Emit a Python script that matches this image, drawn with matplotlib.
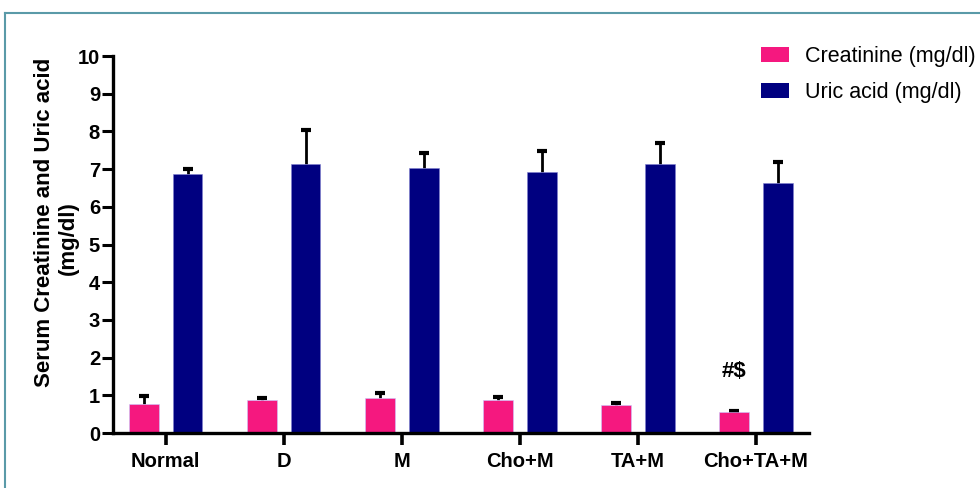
import numpy as np
import matplotlib
matplotlib.use("Agg")
import matplotlib.pyplot as plt
from matplotlib.lines import Line2D
from matplotlib.patches import Patch

plt.rcParams['font.family'] = ['Liberation Sans', 'DejaVu Sans']

groups = ['Normal', 'D', 'M', 'Cho+M', 'TA+M', 'Cho+TA+M']
creatinine = [0.76, 0.88, 0.92, 0.87, 0.74, 0.55]
creatinine_sd = [0.23, 0.04, 0.13, 0.09, 0.05, 0.04]
uric_acid = [6.87, 7.13, 7.02, 6.92, 7.14, 6.62]
uric_acid_sd = [0.13, 0.92, 0.40, 0.57, 0.54, 0.56]
yticks = [0, 1, 2, 3, 4, 5, 6, 7, 8, 9, 10]

pink = '#F5187F'
navy = '#000080'

fig = plt.figure(figsize=(9.8, 4.88), dpi=100)
ax = fig.add_axes([0.1156, 0.1127, 0.7102, 0.7725])

x = np.arange(len(groups))
w = 0.25
off = 0.186


def bars_with_sd(xpos, vals, sd, color, edge):
    ax.bar(xpos, vals, w, color=color, edgecolor=edge, linewidth=0.4, zorder=2)
    # upper half of the SD only
    _, caps, _ = ax.errorbar(xpos, vals, yerr=[np.zeros(len(vals)), sd], fmt='none',
                             ecolor='black', elinewidth=2, capsize=3.5, capthick=3,
                             zorder=1)
    caps[0].set_visible(False)


bars_with_sd(x - off, creatinine, creatinine_sd, pink, '#c8c8ff')
bars_with_sd(x + off, uric_acid, uric_acid_sd, navy, '#8080d0')

# significance mark over the Cho+TA+M creatinine bar
ax.text(x[5] - off, 1.63, '#$', ha='center', va='center', fontsize=16, fontweight='bold')

ax.set_xlim(-0.444, 5.451)
ax.set_ylim(0, 10)
ax.set_yticks(yticks)
ax.set_xticks(x)
ax.set_xticklabels(groups)

for s in ['top', 'right']:
    ax.spines[s].set_visible(False)
for s in ['left', 'bottom']:
    ax.spines[s].set_linewidth(2.4)
    ax.spines[s].set_zorder(3)

ax.tick_params(axis='y', length=8, width=2.2, pad=1.5, labelsize=14.5)
ax.tick_params(axis='x', length=8.5, width=2.6, pad=5, labelsize=14.5)
for lab in ax.get_xticklabels() + ax.get_yticklabels():
    lab.set_fontweight('bold')

fig.text(45 / 980, 1 - 222 / 488, 'Serum Creatinine and Uric acid', rotation=90,
         ha='center', va='center', fontsize=16, fontweight='bold')
fig.text(68 / 980, 1 - 238 / 488, '(mg/dl)', rotation=90,
         ha='center', va='center', fontsize=16, fontweight='bold')

handles = [Patch(facecolor=pink), Patch(facecolor=navy)]
fig.legend(handles, ['Creatinine (mg/dl)', 'Uric acid (mg/dl)'],
           loc='upper left', bbox_to_anchor=(752 / 980, 1 - 37 / 488),
           frameon=False, fontsize=15.5, handlelength=1.3, handleheight=0.7,
           handletextpad=0.75, labelspacing=0.72, borderaxespad=0)

# outer frame
border = '#5a9aa8'
fig.add_artist(Line2D([5 / 980, 1], [1 - 13 / 488] * 2, color=border, lw=1.5,
                      transform=fig.transFigure))
fig.add_artist(Line2D([5 / 980] * 2, [0, 1 - 13 / 488], color=border, lw=1.5,
                      transform=fig.transFigure))

fig.savefig('out.png', dpi=100)
